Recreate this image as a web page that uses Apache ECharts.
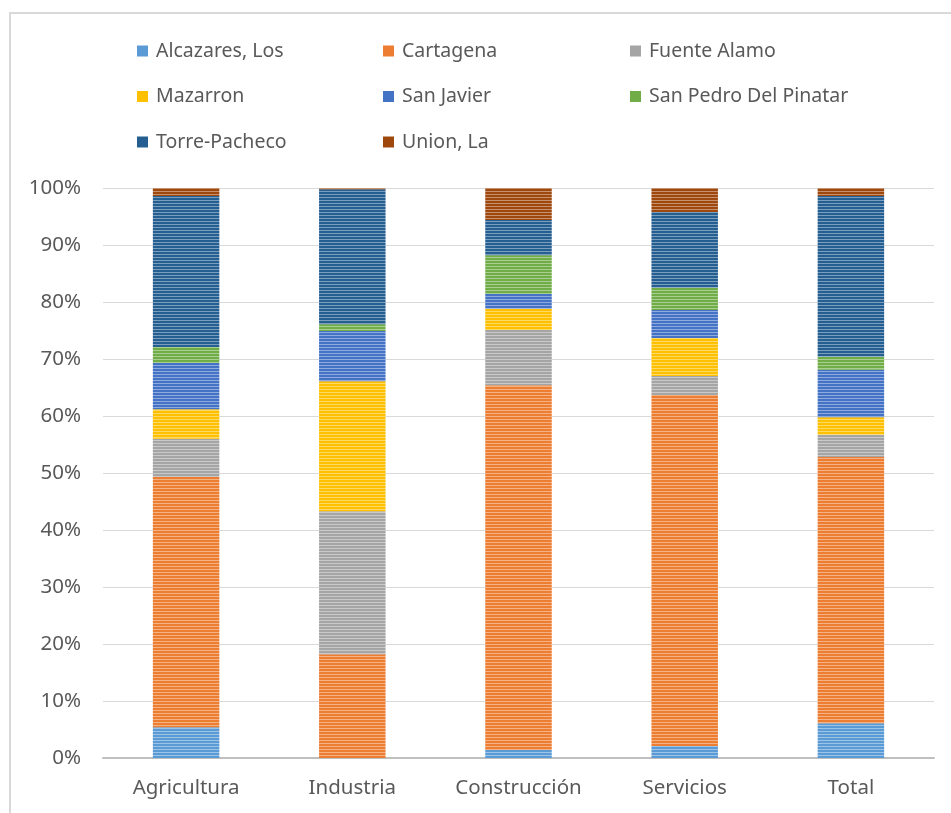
<!DOCTYPE html>
<html>
<head>
<meta charset="utf-8">
<script src="https://cdn.jsdelivr.net/npm/echarts@6/dist/echarts.min.js"></script>
<style>
html,body{margin:0;padding:0;background:#fff;}
#chart{width:951px;height:813px;}
</style>
</head>
<body>
<div id="chart"></div>
<script>
const categories = ['Agricultura', 'Industria', 'Construcción', 'Servicios', 'Total'];
const seriesNames = ['Alcazares, Los', 'Cartagena', 'Fuente Alamo', 'Mazarron', 'San Javier', 'San Pedro Del Pinatar', 'Torre-Pacheco', 'Union, La'];
const alcazares = [5.4, 0.0, 1.4, 2.1, 6.1];
const cartagena = [43.9, 18.2, 64.0, 61.6, 46.7];
const fuenteAlamo = [6.7, 25.1, 9.7, 3.3, 3.9];
const mazarron = [5.2, 22.8, 3.7, 6.7, 3.1];
const sanJavier = [8.1, 8.8, 2.6, 4.9, 8.3];
const sanPedro = [2.8, 1.2, 6.8, 3.9, 2.3];
const torrePacheco = [26.5, 23.7, 6.2, 13.3, 28.2];
const unionLa = [1.4, 0.2, 5.6, 4.2, 1.4];
const yTicks = [0, 10, 20, 30, 40, 50, 60, 70, 80, 90, 100];

const values = [alcazares, cartagena, fuenteAlamo, mazarron, sanJavier, sanPedro, torrePacheco, unionLa];
const colors = ['#5B9BD5', '#ED7D31', '#A5A5A5', '#FFC000', '#4472C4', '#70AD47', '#255E91', '#9E480E'];

function lighten(hex, t) {
  const n = parseInt(hex.slice(1), 16);
  const r = (n >> 16) & 255, g = (n >> 8) & 255, b = n & 255;
  const f = c => Math.round(c + (255 - c) * t);
  return 'rgb(' + f(r) + ',' + f(g) + ',' + f(b) + ')';
}
function stripe(hex) {
  const c = document.createElement('canvas');
  c.width = 4; c.height = 3;
  const ctx = c.getContext('2d');
  ctx.fillStyle = hex; ctx.fillRect(0, 0, 4, 2);
  ctx.fillStyle = lighten(hex, 0.4); ctx.fillRect(0, 2, 4, 1);
  return c;
}

const font = 'Noto Sans';
const txt = '#595959';
const chart = echarts.init(document.getElementById('chart'), null, {renderer: 'canvas'});

function legendCol(left, names) {
  return {
    orient: 'vertical', left: left, top: 35,
    itemWidth: 11, itemHeight: 11, itemGap: 23.5,
    icon: 'rect',
    textStyle: {fontFamily: font, fontSize: 19.5, color: txt, padding: [0, 0, 0, 3], lineHeight: 22},
    data: names.map(n => ({name: n, itemStyle: {color: colors[seriesNames.indexOf(n)]}}))
  };
}

chart.setOption({
  animation: false,
  backgroundColor: '#fff',
  graphic: [{type: 'rect', shape: {x: 10, y: 13, width: 960, height: 900}, style: {fill: 'none', stroke: '#d9d9d9', lineWidth: 2}, silent: true}],
  legend: [
    legendCol(132, [seriesNames[0], seriesNames[3], seriesNames[6]]),
    legendCol(378, [seriesNames[1], seriesNames[4], seriesNames[7]]),
    legendCol(625, [seriesNames[2], seriesNames[5]])
  ],
  grid: {left: 103, right: 17, top: 188, bottom: 55, containLabel: false},
  xAxis: {
    type: 'category', data: categories,
    axisLine: {lineStyle: {color: '#bfbfbf', width: 2}},
    axisTick: {show: false},
    axisLabel: {fontFamily: font, fontSize: 20.5, color: txt, margin: 20}
  },
  yAxis: {
    type: 'value', min: yTicks[0], max: yTicks[yTicks.length - 1], interval: 10,
    axisLine: {show: false}, axisTick: {show: false},
    splitLine: {lineStyle: {color: '#d9d9d9', width: 1}},
    axisLabel: {fontFamily: font, fontSize: 20.5, color: txt, margin: 22, formatter: v => v + '%'}
  },
  series: seriesNames.map((n, i) => ({
    name: n, type: 'bar', stack: 'total', barWidth: '40%',
    data: values[i],
    itemStyle: {color: {image: stripe(colors[i]), repeat: 'repeat'}},
    emphasis: {disabled: true}
  }))
});
</script>
</body>
</html>
